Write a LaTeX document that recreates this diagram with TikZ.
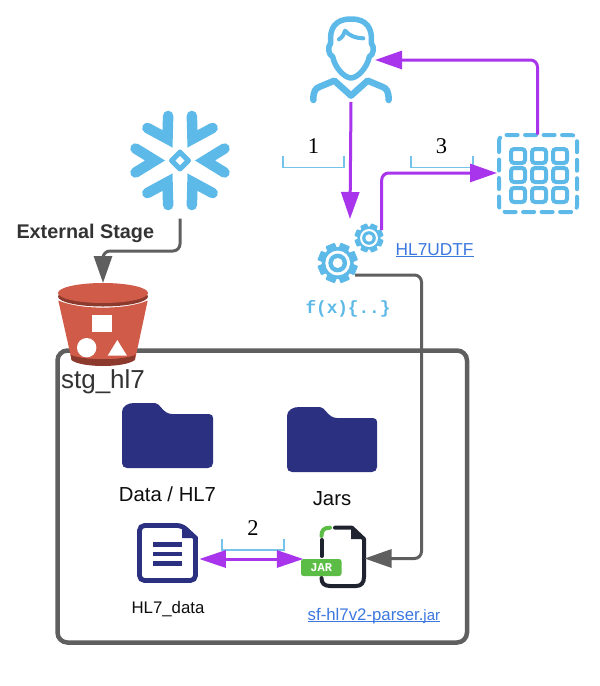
\documentclass[tikz,border=0pt]{standalone}
\usepackage{fontspec}
\setmainfont{Liberation Sans}
\newfontfamily\lmfont{Liberation Serif}
\newfontfamily\codefont{Liberation Mono}
\usetikzlibrary{arrows.meta,calc}
\definecolor{iconblue}{HTML}{5DB9E8}
\definecolor{flow}{HTML}{A835EC}
\definecolor{slate}{HTML}{5F5F5F}
\definecolor{navy}{HTML}{2B3180}
\definecolor{linkblue}{HTML}{3B78E0}
\definecolor{redbody}{HTML}{CF5B48}
\definecolor{redrim}{HTML}{8C3A2D}
\definecolor{jarink}{HTML}{1F2330}
\definecolor{jargreen}{HTML}{5BBD45}
\tikzset{
  anchorbox/.style={inner sep=0pt,outer sep=0pt,draw=none},
  flowline/.style={draw=flow,line width=3pt,rounded corners=7pt},
  greyline/.style={draw=slate,line width=3pt,rounded corners=7pt},
  bigtip/.style={-{Triangle[length=27pt,width=18pt,fill=#1,color=#1]}},
  bracketline/.style={draw=iconblue!85,line width=1.2pt},
  stepnum/.style={font=\lmfont\fontsize{22.5}{23}\selectfont,anchor=center,inner sep=0pt},
  caption/.style={anchor=center,inner sep=0pt,text=black!95},
  linktext/.style={anchor=base west,inner sep=0pt,text=linkblue},
}
\newcommand{\drawgear}[3]{% x y radius
  \begin{scope}[shift={(#1,#2)}]
    \fill[iconblue] (0,0) circle[radius=#3*0.8];
    \foreach \a in {0,45,...,315}{
      \fill[iconblue,rotate=\a+22.5,rounded corners=0.8pt] (-#3*0.25,#3*0.6) rectangle (#3*0.25,#3);
    }
    \fill[white] (0,0) circle[radius=#3*0.62];
    \fill[iconblue] (0,0) circle[radius=#3*0.47];
    \fill[white] (0,0) circle[radius=#3*0.25];
  \end{scope}}
\begin{document}
\begin{tikzpicture}[x=1pt,y=-1pt]
\useasboundingbox (0,0) rectangle (600,686);
\fill[white] (0,0) rectangle (600,686);

% anchors for the icons
\node[anchorbox,minimum width=96pt,minimum height=86pt] (user) at (351,59) {};
\node[anchorbox,minimum width=100pt,minimum height=112pt] (flake) at (180,162.5) {};
\node[anchorbox,minimum width=80pt,minimum height=79pt] (grid) at (538,174) {};
\node[anchorbox,minimum width=28pt,minimum height=28pt] (smallgear) at (369,238) {};
\node[anchorbox,minimum width=40pt,minimum height=40pt] (biggear) at (338,263) {};
\node[anchorbox,minimum width=90pt,minimum height=82pt] (bucket) at (103,324) {};
\node[anchorbox,minimum width=62pt,minimum height=60pt] (doc) at (168,553) {};
\node[anchorbox,minimum width=63pt,minimum height=60pt] (jar) at (333,557) {};

% container
\draw[draw=slate,line width=4.5pt,rounded corners=10pt] (57.5,350.5) rectangle (467,642.5);

% snowflake
\begin{scope}[shift={(180,160.5)}]
  \foreach \a in {0,60,...,300}{
    \draw[iconblue,line width=10.5pt,line cap=round,line join=miter,rotate=\a]
      (44.5,-12) -- (25,0) -- (44.5,12);
  }
  \fill[iconblue,rounded corners=2.5pt] (0,-12) -- (12,0) -- (0,12) -- (-12,0) -- cycle;
  \fill[white] (0,-4.5) -- (4.5,0) -- (0,4.5) -- (-4.5,0) -- cycle;
\end{scope}

% bucket
\fill[redbody] (58.3,300.5) .. controls (80,310) and (126,310) .. (147.7,300.5)
  -- (135,360) .. controls (125,366) and (81,366) .. (71.7,360) -- cycle;
\fill[redrim] (70.5,354) .. controls (81,361) and (125,361) .. (135.5,354)
  -- (134.5,360) .. controls (125,368) and (81,368) .. (71.5,360) -- cycle;
\fill[redbody] (71,352) .. controls (85,358) and (121,358) .. (135,352) -- (135,355) .. controls (121,360) and (85,360) .. (71,355) -- cycle;
\fill[redrim] (103,296.5) ellipse[x radius=45,y radius=10];
\fill[redbody] (103,293) ellipse[x radius=45,y radius=10];
\fill[white] (92.3,315) rectangle (112,332.3);
\fill[white] (86.7,347.7) circle[radius=9.7];
\fill[white] (107.7,355.7) -- (127,355.7) -- (117.3,340) -- cycle;

% user
\begin{scope}[shift={(290,0)},x=0.3333pt,y=-0.3333pt]
  \draw[draw=iconblue,line width=5.5pt,line cap=round,line join=round]
    (183,57) .. controls (135,57) and (118,85) .. (122,130)
    .. controls (112,140) and (115,165) .. (128,170)
    .. controls (135,205) and (165,234) .. (183,234)
    .. controls (201,234) and (231,205) .. (238,170)
    .. controls (251,165) and (254,140) .. (244,130)
    .. controls (248,85) and (231,57) .. (183,57) -- cycle;
  \draw[draw=iconblue,line width=4pt,line cap=round,line join=round]
    (147,118) .. controls (160,110) and (162,100) .. (165,92) .. controls (178,108) and (200,115) .. (220,115);
  \draw[draw=iconblue,line width=6.5pt,line cap=round,line join=round]
    (70,300) .. controls (70,275) and (75,265) .. (90,260) -- (133,242) -- (183,287) -- (233,242) -- (276,260)
    .. controls (291,265) and (296,275) .. (296,300);
\end{scope}

% gears
\drawgear{369}{238}{14.5}
\drawgear{337.7}{263}{20}

% table icon
\draw[draw=iconblue,line width=4pt,rounded corners=6pt,dash pattern=on 11pt off 7.5pt,line cap=round]
  (499,135) rectangle (577,212);
\foreach \cx in {518,539,560}{
  \foreach \cy in {156,175,195}{
    \draw[draw=iconblue,line width=4pt,rounded corners=3pt] (\cx-7,\cy-7) rectangle (\cx+7,\cy+7);
  }
}

% folders
\fill[navy] (122,412) .. controls (122,406) and (128,403) .. (134,403) -- (155,403)
  .. controls (160,403) and (163,414) .. (172,414) -- (209,414) .. controls (212,414) and (213,416) .. (213,418)
  -- (213,463) .. controls (213,466) and (211,468) .. (208,468) -- (127,468)
  .. controls (124,468) and (122,466) .. (122,463) -- cycle;
\fill[navy] (287,416) .. controls (287,410) and (293,407) .. (299,407) -- (320,407)
  .. controls (325,407) and (328,418) .. (337,418) -- (373,418) .. controls (376,418) and (377,420) .. (377,422)
  -- (377,467) .. controls (377,470) and (375,472) .. (372,472) -- (292,472)
  .. controls (289,472) and (287,470) .. (287,467) -- cycle;

% document icon
\draw[draw=navy,line width=4.8pt,rounded corners=5pt] (139.5,525.5) -- (182,525.5) [sharp corners] -- (195.5,538) [rounded corners=5pt] -- (195.5,580.5) -- (139.5,580.5) -- cycle;
\fill[navy] (182,525) -- (196,538) -- (182,538) -- cycle;
\fill[navy] (153,542.3) rectangle (182,547.1);
\fill[navy] (153,551.6) rectangle (182,556.4);
\fill[navy] (153,561) rectangle (182,565.8);

% jar icon
\draw[draw=jarink,line width=4pt,line cap=round,line join=round] (321.5,540) -- (321.5,556);
\draw[draw=jargreen,line width=4pt,line cap=round] (321.5,536) .. controls (321.5,530) and (324,527.7) .. (330,527.7);
\draw[draw=jarink,line width=4pt,line cap=round,line join=round]
  (335,527.7) -- (352,527.7) -- (364,539) -- (364,577) .. controls (364,583) and (361,586) .. (356,586)
  -- (330,586) .. controls (324,586) and (321.5,583) .. (321.5,578);
\fill[jarink] (351,527) -- (365,539) -- (351,539) -- cycle;
\fill[jargreen,rounded corners=2.5pt] (301,559) rectangle (341.5,576) node[midway,text=white,font=\codefont\bfseries\fontsize{12}{12}\selectfont,inner sep=0pt] {JAR};

% brackets
\coordinate (b1a) at (283,156); \coordinate (b1b) at (344,156);
\coordinate (b3a) at (411,156); \coordinate (b3b) at (473,156);
\coordinate (b2a) at (222,539); \coordinate (b2b) at (284,539);
\draw[bracketline] (b1a) -- ++(0,11.5) -| (b1b);
\draw[bracketline] (b3a) -- ++(0,11.5) -| (b3b);
\draw[bracketline] (b2a) -- ++(0,11) -| (b2b);
\node[stepnum] (n1) at (313.5,146) {1};
\node[stepnum] (n3) at (441.5,146) {3};
\node[stepnum] (n2) at (253,528) {2};

% connectors
\draw[draw=flow,line width=3pt,bigtip=flow] (user.south) -- ($(smallgear.north)+(-19,-5)$);
\draw[flowline,bigtip=flow] ($(grid.north)+(-0.5,0)$) |- ($(user.east)+(-24,1)$);
\draw[flowline,bigtip=flow] ($(smallgear.east)+(-1.3,-8)$) |- ($(grid.west)+(-1,-1)$);
\draw[greyline,bigtip=slate] ($(biggear.east)+(-3,12)$) -| ++(66.5,283.5) -- ($(jar.east)+(0,1.5)$);
\draw[greyline,bigtip=slate] (flake.south) |- ($(bucket.north)+(0,-32)$) -- (bucket.north);
\draw[draw=flow,line width=3pt,{Triangle[length=26.5pt,width=17pt,fill=flow,color=flow]}-{Triangle[length=26.5pt,width=17pt,fill=flow,color=flow]}] ($(doc.east)+(0.3,6)$) -- ($(jar.west)+(1.8,2)$);

% texts
\node[caption,font=\bfseries\fontsize{19.8}{20}\selectfont,text=black!80] (ext) at (85.3,233) {External Stage};
\node[caption,font=\fontsize{26}{26}\selectfont,text=black!80] (stg) at (103,382) {stg\_hl7};
\node[caption,font=\fontsize{20.3}{21}\selectfont] (lab1) at (167.5,494) {Data / HL7};
\node[caption,font=\fontsize{20.3}{21}\selectfont] (lab2) at (332,498.5) {Jars};
\node[caption,font=\fontsize{16.8}{17}\selectfont] (lab3) at (168,609.5) {HL7\_data};
\node[anchor=center,inner sep=0pt,text=iconblue,font=\codefont\bfseries\fontsize{17.7}{18}\selectfont] (fx) at (348,309) {f(x)\{..\}};
\node[linktext,font=\fontsize{17.3}{18}\selectfont] (udtf) at (395.5,255) {HL7UDTF};
\draw[draw=linkblue,line width=1pt] ($(udtf.base west)+(0,1.8)$) -- ($(udtf.base east)+(0,1.8)$);
\node[linktext,font=\fontsize{16.8}{17}\selectfont] (parser) at (307.5,620) {sf-hl7v2-parser.{\fontsize{15}{15}\selectfont jar}};
\draw[draw=linkblue,line width=1pt] ($(parser.base west)+(0,1.8)$) -- ($(parser.base east)+(0,1.8)$);
\end{tikzpicture}
\end{document}
